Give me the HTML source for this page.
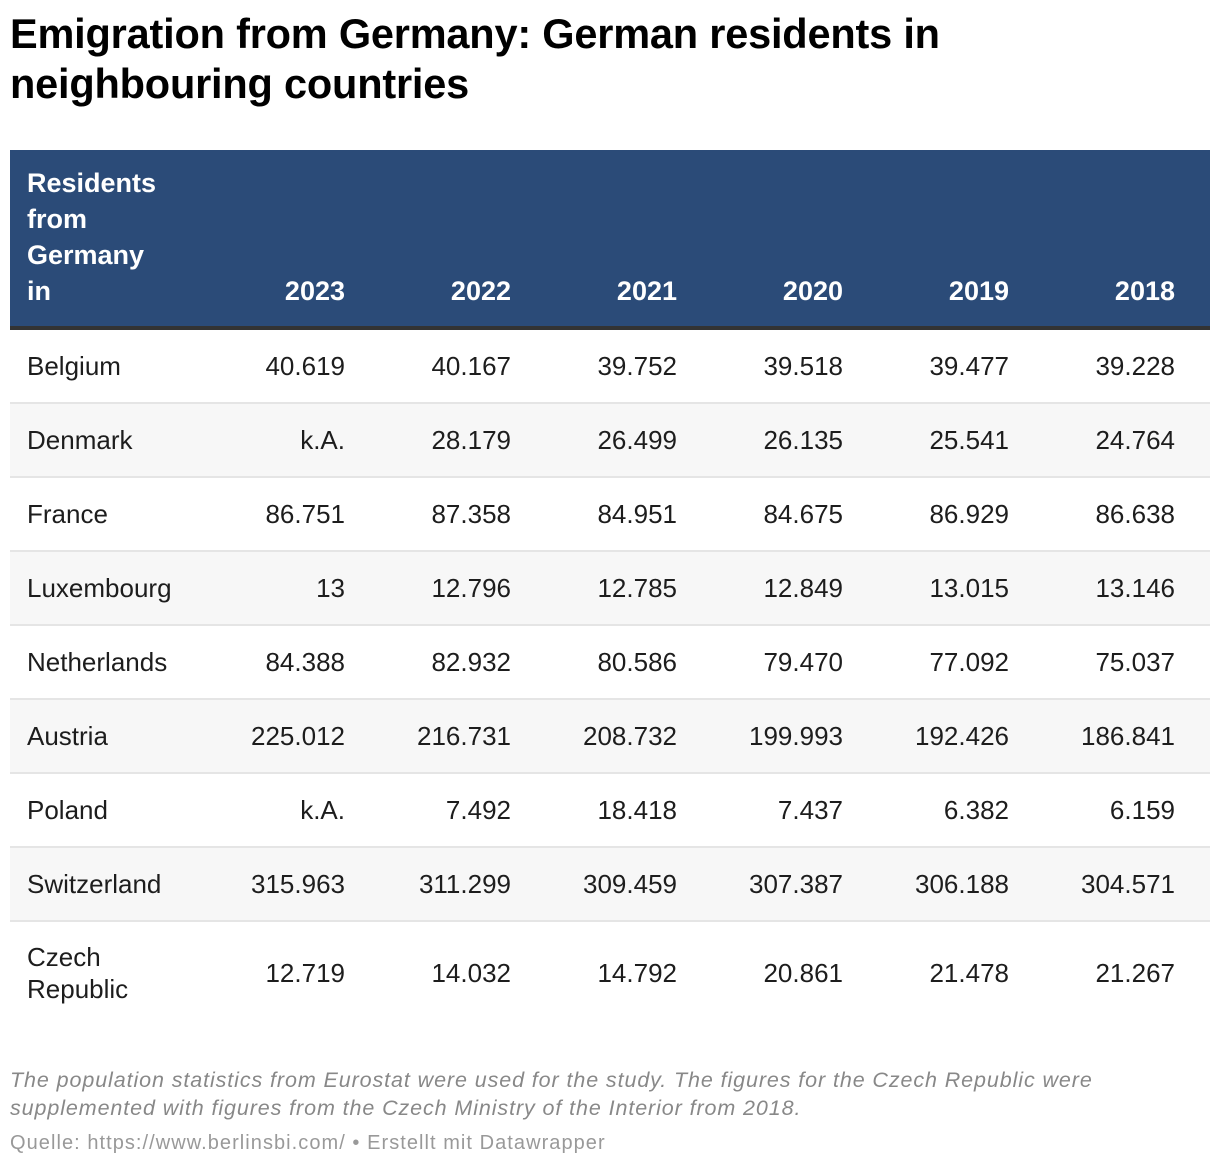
<!DOCTYPE html>
<html><head><meta charset="utf-8">
<style>
body{margin:0;width:1220px;height:1168px;background:#fff;font-family:"Liberation Sans",sans-serif;color:#1d1d1d;position:relative;overflow:hidden}
h1{position:absolute;left:10px;top:9px;margin:0;font-size:41.5px;line-height:50px;font-weight:bold;color:#000;letter-spacing:-0.2px}
table{position:absolute;left:10px;top:150px;width:1200px;border-collapse:collapse;table-layout:fixed;font-size:26px}
th{background:#2b4b78;color:#fff;font-weight:bold;font-size:27px;line-height:36px;vertical-align:bottom;text-align:right;padding:0 35px 17px 0;height:159px;border-bottom:4px solid #333}
th.first{text-align:left;padding-left:17px}
td{height:72px;border-bottom:2px solid #e5e5e5;text-align:right;padding:0 35px 0 0;white-space:nowrap}
td.first{text-align:left;padding-left:17px;white-space:normal;line-height:32px}
tr.alt td{background:#f7f7f7}
tr.last td{height:102px;border-bottom:none}
.note{position:absolute;left:10px;top:1066px;font-size:21.5px;line-height:28px;font-style:italic;color:#888;width:1110px;letter-spacing:0.9px}
.src{position:absolute;left:10px;top:1132px;font-size:20px;letter-spacing:1.05px;color:#999}
</style></head><body>
<h1>Emigration from Germany: German residents in<br>neighbouring countries</h1>
<table>
<colgroup><col style="width:204px"><col style="width:166px"><col style="width:166px"><col style="width:166px"><col style="width:166px"><col style="width:166px"><col style="width:166px"></colgroup>
<thead><tr>
<th class="first">Residents<br>from<br>Germany<br>in</th>
<th>2023</th>
<th>2022</th>
<th>2021</th>
<th>2020</th>
<th>2019</th>
<th>2018</th>
</tr></thead>
<tbody>
<tr><td class="first">Belgium</td><td>40.619</td><td>40.167</td><td>39.752</td><td>39.518</td><td>39.477</td><td>39.228</td></tr>
<tr class="alt"><td class="first">Denmark</td><td>k.A.</td><td>28.179</td><td>26.499</td><td>26.135</td><td>25.541</td><td>24.764</td></tr>
<tr><td class="first">France</td><td>86.751</td><td>87.358</td><td>84.951</td><td>84.675</td><td>86.929</td><td>86.638</td></tr>
<tr class="alt"><td class="first">Luxembourg</td><td>13</td><td>12.796</td><td>12.785</td><td>12.849</td><td>13.015</td><td>13.146</td></tr>
<tr><td class="first">Netherlands</td><td>84.388</td><td>82.932</td><td>80.586</td><td>79.470</td><td>77.092</td><td>75.037</td></tr>
<tr class="alt"><td class="first">Austria</td><td>225.012</td><td>216.731</td><td>208.732</td><td>199.993</td><td>192.426</td><td>186.841</td></tr>
<tr><td class="first">Poland</td><td>k.A.</td><td>7.492</td><td>18.418</td><td>7.437</td><td>6.382</td><td>6.159</td></tr>
<tr class="alt"><td class="first">Switzerland</td><td>315.963</td><td>311.299</td><td>309.459</td><td>307.387</td><td>306.188</td><td>304.571</td></tr>
<tr class="last"><td class="first">Czech<br>Republic</td><td>12.719</td><td>14.032</td><td>14.792</td><td>20.861</td><td>21.478</td><td>21.267</td></tr>
</tbody></table>
<div class="note">The population statistics from Eurostat were used for the study. The figures for the Czech Republic were supplemented with figures from the Czech Ministry of the Interior from 2018.</div>
<div class="src">Quelle: <span>https://www.berlinsbi.com/</span> • Erstellt mit Datawrapper</div>
</body></html>
